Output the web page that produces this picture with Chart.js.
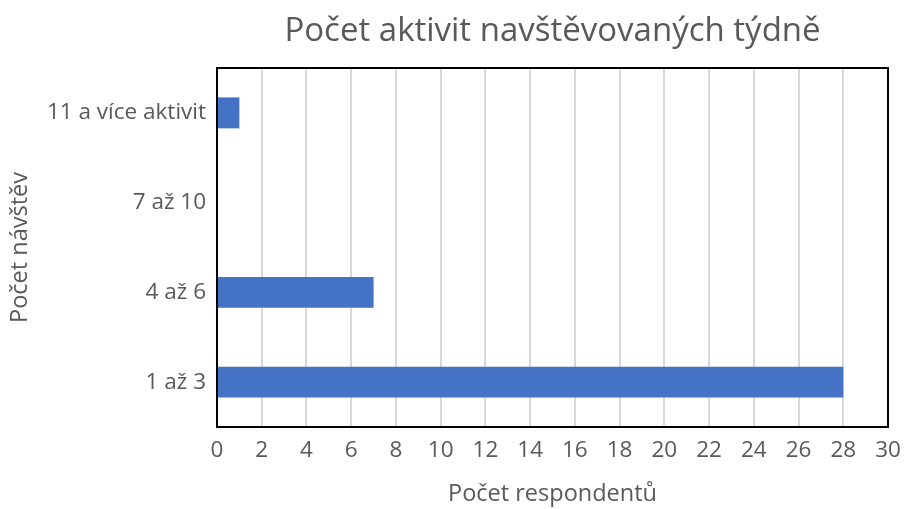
<!DOCTYPE html>
<html>
<head>
<meta charset="utf-8">
<script src="https://cdn.jsdelivr.net/npm/chart.js@4"></script>
<style>
  html, body { margin: 0; padding: 0; background: #fff; }
  #wrap { width: 905px; height: 509px; }
</style>
</head>
<body>
<div id="wrap"><canvas id="chart" width="905" height="509"></canvas></div>
<script>
// data
var categories = ['11 a více aktivit', '7 až 10', '4 až 6', '1 až 3'];
var respondents = [1, 0, 7, 28];
var xTicks = [0, 2, 4, 6, 8, 10, 12, 14, 16, 18, 20, 22, 24, 26, 28, 30];

var chartTitle = 'Počet aktivit navštěvovaných týdně';
var textColor = '#595959';
var fontName = '"Open Sans", sans-serif';

// black frame round the plot area + title centred over the plot
var frame = {
    id: 'frame',
    afterDraw: function (chart) {
        var a = chart.chartArea;
        var ctx = chart.ctx;
        ctx.save();
        ctx.strokeStyle = '#000';
        ctx.lineWidth = 2;
        ctx.strokeRect(a.left, a.top, a.right - a.left, a.bottom - a.top);
        ctx.fillStyle = textColor;
        ctx.font = '33px ' + fontName;
        ctx.textAlign = 'center';
        ctx.textBaseline = 'middle';
        ctx.fillText(chartTitle, (a.left + a.right) / 2, 32);
        ctx.restore();
    }
};

var ctx = document.getElementById('chart').getContext('2d');
new Chart(ctx, {
    type: 'bar',
    data: {
        labels: categories,
        datasets: [{
            data: respondents,
            backgroundColor: '#4472C4',
            borderWidth: 0,
            barPercentage: 0.345,
            categoryPercentage: 1
        }]
    },
    options: {
        indexAxis: 'y',
        responsive: false,
        animation: false,
        layout: { padding: { left: 0, right: 17, top: 68, bottom: 0 } },
        plugins: {
            legend: { display: false },
            tooltip: { enabled: false },
            title: { display: false }
        },
        scales: {
            x: {
                min: 0,
                max: 30,
                afterBuildTicks: function (axis) {
                    axis.ticks = xTicks.map(function (v) { return { value: v }; });
                },
                afterFit: function (axis) {
                    axis.height = 82;
                    axis.paddingLeft = 0;
                    axis.paddingRight = 0;
                },
                grid: { color: '#d9d9d9', lineWidth: 2, drawTicks: false },
                border: { display: false },
                ticks: {
                    color: textColor,
                    font: { family: fontName, size: 22.5 },
                    padding: 10,
                    maxRotation: 0,
                    autoSkip: false
                },
                title: {
                    display: true,
                    text: 'Počet respondentů',
                    color: textColor,
                    font: { family: fontName, size: 23.5 },
                    padding: { top: 0, bottom: 1 }
                }
            },
            y: {
                afterFit: function (axis) { axis.width = 217; },
                grid: { display: false, drawTicks: false },
                border: { display: false },
                ticks: {
                    color: textColor,
                    font: { family: fontName, size: 22.5 },
                    padding: 11
                },
                title: {
                    display: true,
                    text: 'Počet návštěv',
                    color: textColor,
                    font: { family: fontName, size: 23.5 },
                    padding: { top: 6, bottom: 0 }
                }
            }
        }
    },
    plugins: [frame]
});
</script>
</body>
</html>
